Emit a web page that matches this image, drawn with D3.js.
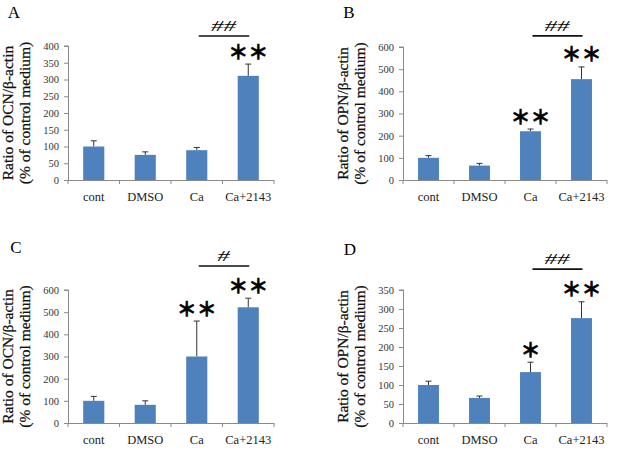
<!DOCTYPE html>
<html>
<head>
<meta charset="utf-8">
<script src="https://cdn.jsdelivr.net/npm/d3@7"></script>
<style>
  body { margin: 0; background: #fff; }
  svg { display: block; }
</style>
</head>
<body>
<div id="chart"></div>
<script>
// categories shared by every panel
const categories = ["cont", "DMSO", "Ca", "Ca+2143"];

// panel A: OCN (first experiment)
const ocnA = [100, 75, 89, 311];
const ocnAErr = [17, 9, 8, 35];
const ocnAStars = ["", "", "", "**"];

// panel B: OPN (first experiment)
const opnB = [100, 65, 220, 455];
const opnBErr = [10, 10, 10, 55];
const opnBStars = ["", "", "**", "**"];

// panel C: OCN (second experiment)
const ocnC = [100, 82, 300, 522];
const ocnCErr = [20, 18, 160, 41];
const ocnCStars = ["", "", "**", "**"];

// panel D: OPN (second experiment)
const opnD = [100, 66, 134, 276];
const opnDErr = [10, 5, 26, 43];
const opnDStars = ["", "", "*", "**"];

// y ticks
const ticksA = [0, 50, 100, 150, 200, 250, 300, 350, 400];
const ticksB = [0, 100, 200, 300, 400, 500, 600];
const ticksC = [0, 100, 200, 300, 400, 500, 600];
const ticksD = [0, 50, 100, 150, 200, 250, 300, 350];

// Ca vs Ca+2143 comparison marks and the level of the bracket (data units)
const hashA = "##", hashB = "##", hashC = "#", hashD = "##";
const bracketA = 430, bracketB = 650, bracketC = 708, bracketD = 405;

const svg = d3.select("#chart").append("svg")
    .attr("width", 630)
    .attr("height", 454);

const panels = [
    {letter: "A", label: "OCN", vals: ocnA, err: ocnAErr, stars: ocnAStars, ticks: ticksA, hash: hashA, bracket: bracketA,
     x0: 68, x1: 274, yTop: 46, yBot: 180, lx: 14, ly: 18},
    {letter: "B", label: "OPN", vals: opnB, err: opnBErr, stars: opnBStars, ticks: ticksB, hash: hashB, bracket: bracketB,
     x0: 403, x1: 607, yTop: 47, yBot: 180, lx: 349, ly: 18},
    {letter: "C", label: "OCN", vals: ocnC, err: ocnCErr, stars: ocnCStars, ticks: ticksC, hash: hashC, bracket: bracketC,
     x0: 68, x1: 274, yTop: 290, yBot: 423, lx: 16, ly: 253},
    {letter: "D", label: "OPN", vals: opnD, err: opnDErr, stars: opnDStars, ticks: ticksD, hash: hashD, bracket: bracketD,
     x0: 403, x1: 607, yTop: 290, yBot: 423, lx: 350, ly: 255}
];

const axisColor = "#8a8a8a";
const barColor = "#4f81bd";
const serif = "Liberation Serif";

panels.forEach(p => {
    const g = svg.append("g");
    const ymax = p.ticks[p.ticks.length - 1];

    const x = d3.scaleBand()
        .domain(categories)
        .range([p.x0, p.x1])
        .padding(0);

    const y = d3.scaleLinear()
        .domain([0, ymax])
        .range([p.yBot, p.yTop]);

    // panel letter
    g.append("text")
        .attr("x", p.lx)
        .attr("y", p.ly)
        .attr("text-anchor", "middle")
        .attr("font-family", serif)
        .attr("font-size", "17px")
        .text(p.letter);

    // y axis
    const yAxis = g.append("g")
        .attr("transform", `translate(${p.x0},0)`)
        .call(d3.axisLeft(y).tickValues(p.ticks).tickSize(4).tickPadding(5).tickFormat(d3.format("d")));
    yAxis.select(".domain").attr("stroke", axisColor).attr("d", `M-4,${p.yTop}H0.5V${p.yBot}`);
    yAxis.selectAll(".tick line").attr("stroke", axisColor);
    yAxis.selectAll(".tick text")
        .attr("font-family", serif)
        .attr("font-size", "10.5px")
        .attr("fill", "#333");

    // x axis
    const xAxis = g.append("g")
        .attr("transform", `translate(0,${p.yBot})`)
        .call(d3.axisBottom(x).tickSize(0).tickPadding(12));
    xAxis.select(".domain").attr("stroke", axisColor).attr("d", `M${p.x0},0.5H${p.x1}`);
    xAxis.selectAll(".tick text")
        .attr("font-family", serif)
        .attr("font-size", "12.5px")
        .attr("fill", "#222");
    // category boundary ticks
    g.selectAll(".bound")
        .data(d3.range(categories.length + 1))
        .enter().append("line")
        .attr("x1", i => p.x0 + i * x.bandwidth())
        .attr("x2", i => p.x0 + i * x.bandwidth())
        .attr("y1", p.yBot)
        .attr("y2", p.yBot + 4)
        .attr("stroke", axisColor);

    // y label (two lines)
    const my = (p.yTop + p.yBot) / 2;
    [`Ratio of ${p.label}/β-actin`, "(% of control medium)"].forEach((t, i) => {
        g.append("text")
            .attr("transform", `translate(${p.x0 - 61 + i * 17},${my}) rotate(-90)`)
            .attr("text-anchor", "middle")
            .attr("dominant-baseline", "central")
            .attr("font-family", serif)
            .attr("font-size", "15.5px")
            .attr("fill", "#111")
            .attr("stroke", "#111")
            .attr("stroke-width", 0.25)
            .text(t);
    });

    const bw = x.bandwidth() * 0.41;
    const cx = c => x(c) + x.bandwidth() / 2;

    // error bars (upper only)
    const eg = g.append("g").attr("stroke", "#333").attr("stroke-width", 1);
    categories.forEach((c, i) => {
        const top = y(p.vals[i] + p.err[i]);
        eg.append("line").attr("x1", cx(c)).attr("x2", cx(c)).attr("y1", y(p.vals[i])).attr("y2", top);
        eg.append("line").attr("x1", cx(c) - 3).attr("x2", cx(c) + 3).attr("y1", top).attr("y2", top);
    });

    // bars
    g.selectAll(".bar")
        .data(categories)
        .enter().append("rect")
        .attr("x", c => cx(c) - bw / 2)
        .attr("width", bw)
        .attr("y", (c, i) => y(p.vals[i]))
        .attr("height", (c, i) => p.yBot - y(p.vals[i]))
        .attr("fill", barColor);

    // significance stars
    categories.forEach((c, i) => {
        if (!p.stars[i]) return;
        const top = y(p.vals[i] + p.err[i]);
        g.append("text")
            .attr("x", cx(c))
            .attr("y", top - 13)
            .attr("text-anchor", "middle")
            .attr("dominant-baseline", "central")
            .attr("font-family", "Noto Sans CJK JP")
            .attr("font-weight", "bold")
            .attr("font-size", "20px")
            .attr("stroke", "#000")
            .attr("stroke-width", 0.6)
            .text(p.stars[i].replace(/\*/g, "＊"));
    });

    // bracket Ca vs Ca+2143
    const by = y(p.bracket);
    g.append("line")
        .attr("x1", cx("Ca") + 2)
        .attr("x2", cx("Ca+2143") + 1)
        .attr("y1", by)
        .attr("y2", by)
        .attr("stroke", "#111")
        .attr("stroke-width", 1.6);
    g.append("text")
        .attr("x", (cx("Ca") + cx("Ca+2143")) / 2 + 1)
        .attr("y", by - 5)
        .attr("text-anchor", "middle")
        .attr("font-family", serif)
        .attr("font-style", "italic")
        .attr("font-size", "15px")
        .attr("textLength", p.hash.length * 12.5)
        .attr("lengthAdjust", "spacingAndGlyphs")
        .text(p.hash);
});
</script>
</body>
</html>
